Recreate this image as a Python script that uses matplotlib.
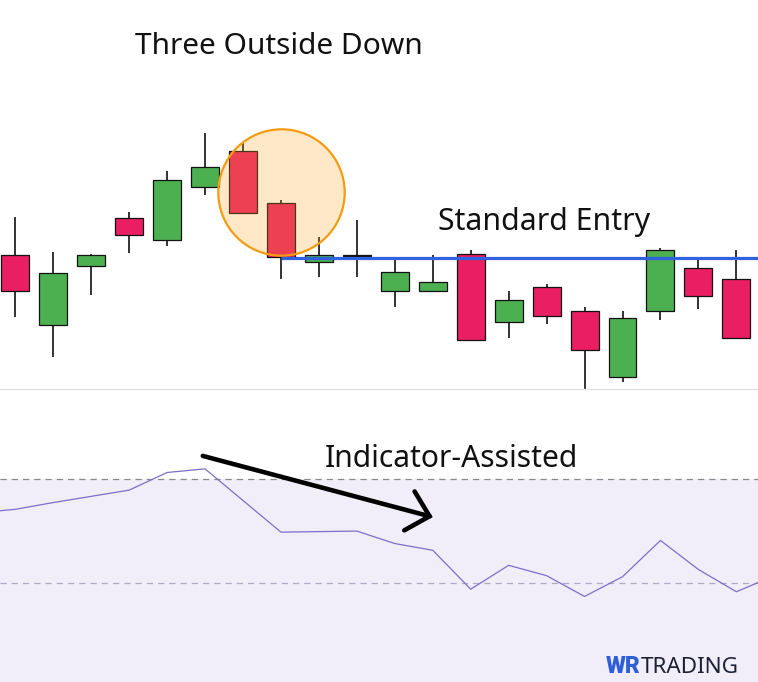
import matplotlib

matplotlib.use("Agg")
import matplotlib.pyplot as plt
import numpy as np
from matplotlib.patches import Rectangle

# --- candle data (price units) ---
opens = [1.1134, 1.1064, 1.1123, 1.1171, 1.1149, 1.1202, 1.1238, 1.1186, 1.1127, 1.1133,
         1.1098, 1.1098, 1.1135, 1.1067, 1.1102, 1.1078, 1.1012, 1.1078, 1.1121, 1.1110]
highs = [1.1172, 1.1137, 1.1135, 1.1177, 1.1218, 1.1256, 1.1247, 1.1189, 1.1152, 1.1169,
         1.1129, 1.1134, 1.1139, 1.1098, 1.1105, 1.1082, 1.1078, 1.1141, 1.1129, 1.1139]
lows = [1.1072, 1.1032, 1.1094, 1.1136, 1.1143, 1.1194, 1.1176, 1.1110, 1.1112, 1.1112,
        1.1082, 1.1098, 1.1049, 1.1051, 1.1065, 1.0999, 1.1007, 1.1069, 1.1080, 1.1051]
closes = [1.1098, 1.1116, 1.1134, 1.1154, 1.1209, 1.1222, 1.1176, 1.1132, 1.1134, 1.1133,
          1.1117, 1.1107, 1.1049, 1.1089, 1.1073, 1.1039, 1.1071, 1.1139, 1.1093, 1.1051]

# --- RSI-like indicator, starts one bar before the first candle ---
rsi_start = -1
rsi = [63.5, 64.2, 65.5, 66.7, 67.9, 71.3, 72.0, 65.9, 59.8, 59.9, 60.0,
       57.6, 56.3, 48.8, 53.4, 51.4, 47.4, 51.2, 58.2, 52.6, 48.3, 51.4]

entry_level = 1.1131
entry_from = 7
pattern_bar = 7
pattern_mid = 1.1197

GREEN = "#4caf50"
RED = "#e91e63"
BLUE = "#2f62dc"
ORANGE = "#f39c12"
LAVENDER = "#f1edf9"
PURPLE = "#7e6fc8"
INK = "#111111"

W, H = 758, 682
fig = plt.figure(figsize=(W / 100, H / 100), dpi=100)
fig.patch.set_facecolor("white")

split = 389  # pixel row of the pane separator
ax = fig.add_axes([0, 1 - split / H, 1, split / H])
axr = fig.add_axes([0, 0, 1, 1 - split / H])
xlim = (-0.403, 19.57)

# candles
x = np.arange(len(opens))
bw = 0.737
for i, o, h, l, c in zip(x, opens, highs, lows, closes):
    ax.plot([i, i], [l, h], color=INK, lw=1.2, zorder=2, solid_capstyle="butt")
    if c > o:
        col = GREEN
    elif c < o:
        col = RED
    else:
        col = INK
    lo, hi = min(o, c), max(o, c)
    ax.add_patch(Rectangle((i - bw / 2, lo), bw, max(hi - lo, 0.00008), facecolor=col,
                           edgecolor=INK, lw=0.9, zorder=3))

# pattern highlight circle (diameter ~128 px)
ax.plot(pattern_bar, pattern_mid, "o", ms=91, mfc=(1.0, 0.655, 0.15, 0.25),
        mec=ORANGE, mew=1.6, zorder=4)
ax.hlines(entry_level, entry_from, xlim[1], color=BLUE, lw=2.3, zorder=5)

ax.set_xlim(*xlim)
ax.set_ylim(1.1000, 1.1389)
ax.set_facecolor("none")
for s in ("top", "right", "left"):
    ax.spines[s].set_visible(False)
ax.spines["bottom"].set_color("#e3e3e3")
ax.spines["bottom"].set_linewidth(1.0)
ax.set_xticks([]); ax.set_yticks([])

# indicator pane
xr = np.arange(rsi_start, rsi_start + len(rsi))
axr.axhspan(30, 70, color=LAVENDER, lw=0, zorder=0)
axr.axhline(70, color="#8a8a8a", lw=0.9, ls=(0, (5, 4)), zorder=1)
axr.axhline(50, color="#b3abc4", lw=0.9, ls=(0, (5, 4)), zorder=1)
axr.plot(xr, rsi, color=PURPLE, lw=0.9, zorder=2)
axr.annotate("", xy=(11.0, 62.7), xytext=(4.94, 74.5),
             arrowprops=dict(arrowstyle="->,head_length=1.5,head_width=1.45", lw=3.3,
                             color="black", mutation_scale=10, shrinkA=0, shrinkB=0,
                             capstyle="round", joinstyle="miter"), zorder=5)
axr.set_xlim(*xlim)
axr.set_ylim(30.9, 87.4)
axr.axis("off")

# labels
font = "Noto Sans"
fig.text(135 / W, 1 - 54.3 / H, "Three Outside Down", family=font, fontsize=21.5,
         ha="left", va="baseline", color=INK)
fig.text(438 / W, 1 - 230 / H, "Standard Entry", family=font, fontsize=21.8,
         ha="left", va="baseline", color=INK)
fig.text(325 / W, 1 - 467 / H, "Indicator-Assisted", family=font, fontsize=21.6,
         ha="left", va="baseline", color=INK)

# logo
fig.text(640 / W, 1 - 673.3 / H, "WR", family="Roboto", fontsize=16.5, weight="heavy",
         ha="right", va="baseline", color="#2f5fd8")
fig.text(641 / W, 1 - 673.3 / H, "TRADING", family=font, fontsize=16.2,
         ha="left", va="baseline", color="#1c2136")

fig.savefig("out.png", dpi=100)
